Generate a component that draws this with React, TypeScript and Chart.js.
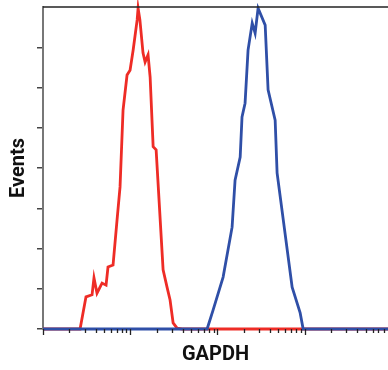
import React, { useEffect, useRef } from "react";
import { Chart, registerables } from "chart.js";

Chart.register(...registerables);

// Red histogram (fluorescence intensity, events)
const redX = [1, 2.66, 3.11, 3.65, 3.84, 4.16, 4.75, 5.28, 5.56, 6.35, 7.06, 7.64, 8.27, 9.19, 9.95, 10.8, 12.0, 12.3, 12.9, 14.0, 14.8, 16.0, 16.9, 18.3, 19.8, 23.8, 26.4, 28.6, 31.0, 34.4, 39.3, 9000];
const redY = [0, 0, 80, 85, 127, 89, 114, 109, 154, 159, 271, 353, 544, 631, 643, 693, 768, 797, 768, 686, 663, 681, 626, 453, 445, 147, 104, 72, 15, 2, 0, 0];

// Blue histogram
const blueX = [1, 76.0, 89.0, 116, 147, 159, 182, 191, 207, 224, 250, 270, 292, 352, 380, 458, 482, 717, 886, 959, 9000];
const blueY = [0, 0, 47, 129, 253, 370, 427, 527, 561, 693, 760, 735, 797, 755, 594, 519, 388, 104, 40, 0, 0];

const majorTicks = [1, 10, 100, 1000];
const minorTicks = [2, 3, 4, 5, 6, 7, 8, 9, 20, 30, 40, 50, 60, 70, 80, 90, 200, 300, 400, 500, 600, 700, 800, 900, 2000, 3000, 4000, 5000, 6000, 7000, 8000];

const xMin = 1;
const xMax = 9000;
const yMax = 800;
const yStep = 100;

const FONT = 'Roboto, "Liberation Sans", Arial, sans-serif';

const ticksPlugin = {
  id: "logTicks",
  afterDraw(chart: any) {
    const { ctx, chartArea } = chart;
    const xs = chart.scales.x;
    ctx.save();
    ctx.strokeStyle = "#222";
    ctx.lineWidth = 1.3;
    ctx.beginPath();
    ctx.moveTo(chartArea.left, chartArea.top);
    ctx.lineTo(chartArea.right, chartArea.top);
    ctx.stroke();
    const b = chartArea.bottom;
    ctx.lineWidth = 1.3;
    ctx.beginPath();
    for (const v of majorTicks) {
      const px = Math.round(xs.getPixelForValue(v)) + 0.5;
      ctx.moveTo(px, b);
      ctx.lineTo(px, b + 6);
    }
    for (const v of minorTicks) {
      const px = Math.round(xs.getPixelForValue(v)) + 0.5;
      if (px > chartArea.right) continue;
      ctx.moveTo(px, b);
      ctx.lineTo(px, b + 4);
    }
    ctx.stroke();
    ctx.restore();
  },
};

export default function App() {
  const ref = useRef<HTMLCanvasElement>(null);
  useEffect(() => {
    if (!ref.current) return;
    const chart = new Chart(ref.current, {
      type: "line",
      data: {
        datasets: [
          {
            label: "blue",
            data: blueX.map((x, i) => ({ x, y: blueY[i] })),
            borderColor: "#2f4fa7",
            borderWidth: 2.8,
            pointRadius: 0,
            tension: 0,
            clip: false as any,
          },
          {
            label: "red",
            data: redX.map((x, i) => ({ x, y: redY[i] })),
            borderColor: "#ee2c26",
            borderWidth: 2.8,
            pointRadius: 0,
            tension: 0,
            clip: false as any,
          },
        ],
      },
      options: {
        responsive: false,
        animation: false,
        layout: { padding: { top: 7, left: 0, right: 0, bottom: 0 } },
        plugins: { legend: { display: false }, tooltip: { enabled: false } },
        scales: {
          x: {
            type: "logarithmic",
            min: xMin,
            max: xMax,
            grid: { display: false },
            border: { display: true, color: "#333", width: 1.5 },
            ticks: { display: false },
            title: {
              display: true,
              text: "GAPDH",
              color: "#111",
              font: { family: FONT, size: 20, weight: "bold" },
              padding: { top: 0, bottom: 3 },
            },
            afterFit: (s: any) => {
              s.height = 41;
            },
          },
          y: {
            min: 0,
            max: yMax,
            ticks: { display: false, stepSize: yStep },
            grid: {
              drawOnChartArea: false,
              drawTicks: true,
              tickLength: 6,
              lineWidth: 1.5,
              color: (c: any) => (c.tick && c.tick.value === yMax ? "rgba(0,0,0,0)" : "#444"),
            },
            border: { display: true, color: "#777", width: 2 },
            title: {
              display: true,
              text: "Events",
              color: "#111",
              font: { family: FONT, size: 20, weight: "bold" },
              padding: { top: 7, bottom: 0 },
            },
            afterFit: (s: any) => {
              s.width = 43;
            },
          },
        },
      },
      plugins: [ticksPlugin],
    });
    return () => chart.destroy();
  }, []);
  return (
    <canvas
      ref={ref}
      width={388}
      height={370}
      style={{ position: "fixed", left: 0, top: 0, width: 388, height: 370, background: "#fff" }}
    />
  );
}
